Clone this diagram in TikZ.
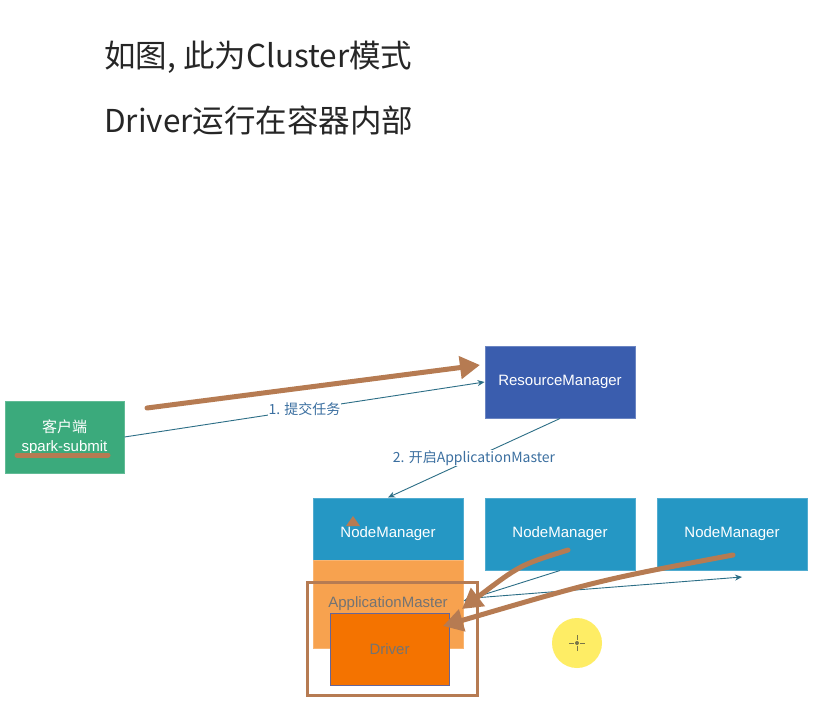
\documentclass[tikz,border=0pt]{standalone}
\usepackage{fontspec}
\setmainfont{Liberation Sans}
\newfontfamily\cjk{Noto Sans CJK SC}
\usetikzlibrary{arrows.meta}
\definecolor{cligreen}{HTML}{3BAA7C}
\definecolor{rmblue}{HTML}{3A5DAE}
\definecolor{nmblue}{HTML}{2597C4}
\definecolor{amorange}{HTML}{F7A24F}
\definecolor{drvorange}{HTML}{F47300}
\definecolor{linkteal}{HTML}{2C6E86}
\definecolor{labblue}{HTML}{3B6FA0}
\definecolor{penbrown}{HTML}{B67B52}
\tikzset{
	box/.style={draw, line width=1, minimum width=150, minimum height=72, inner sep=0, text=white, font=\fontsize{15}{18}\selectfont},
	link/.style={draw=linkteal, line width=0.9, arrows={-Stealth[length=7, width=6]}},
	lab/.style={fill=white, inner sep=1, text=labblue, font=\cjk\fontsize{14}{16}\selectfont},
	pen/.style={draw=penbrown, line width=5, line cap=round},
	penarrow/.style={pen, arrows={-Triangle[length=20, width=22]}}
}
\begin{document}
\begin{tikzpicture}[x=1pt,y=-1pt]
	\useasboundingbox [fill=white] (0,0) rectangle (826,725);
	% title
	\node [anchor=base west, inner sep=0, font=\cjk\fontsize{31.5}{36}\selectfont, text=black!85] (title1) at (104,67) {如图, 此为Cluster模式};
	\node [anchor=base west, inner sep=0, font=\cjk\fontsize{31.5}{36}\selectfont, text=black!85] (title2) at (104,132) {Driver运行在容器内部};
	% boxes
	\node [box, fill=cligreen, draw=cligreen!80!white, minimum width=119, align=center] (cli) at (64.5,437) {{\cjk 客户端}\\[1pt]spark-submit};
	\node [box, fill=rmblue, draw=rmblue!75!white] (rm) at (560,382) {ResourceManager};
	\node [box, fill=nmblue, draw=nmblue!80!white] (nm1) at (388,534) {NodeManager};
	\node [box, fill=amorange, draw=amorange!80!white, minimum height=88, text=black!55] (am) at (388,604) {ApplicationMaster};
	\node [box, fill=nmblue, draw=nmblue!80!white] (nm2) at (560,534) {NodeManager};
	\node [box, fill=nmblue, draw=nmblue!80!white] (nm3) at (732,534) {NodeManager};
	\draw [penbrown, line width=3] (307,582) rectangle (477,695);
	\node [box, fill=drvorange, draw=gray!80!blue, minimum width=119, text=black!55] (drv) at (389.5,649) {Driver};
	% connectors
	\draw [link] (cli.east) -- node [lab] {1. 提交任务} (rm.west);
	\draw [link] (rm.south) -- node [lab] {2. 开启ApplicationMaster} (nm1.north);
	\coordinate (nm3in) at (742,577);
	\draw [link] (nm2.south) -- ([yshift=3]am.east);
	\draw [link] ([xshift=10,yshift=6]am.east) -- (nm3in);
	% pen marks
	\draw [pen] (17,455) -- (108,455);
	\draw [penarrow] (147,408) -- (480,365);
	\fill [penbrown] (353,516) -- (360,526) -- (346,526) -- cycle;
	\draw [penarrow] (568,550) .. controls (520,565) .. (462,609);
	\draw [penarrow] (733,555) .. controls (600,580) .. (443,626);
	% cursor
	\fill [yellow!85!orange!60] (577,643) circle [radius=25];
	\draw [black!60!yellow, line width=1] (569,643) -- (574,643) (580,643) -- (585,643) (577,635) -- (577,640) (577,646) -- (577,651);
	\fill [black!60!yellow] (577,643) circle [radius=2];
\end{tikzpicture}
\end{document}
